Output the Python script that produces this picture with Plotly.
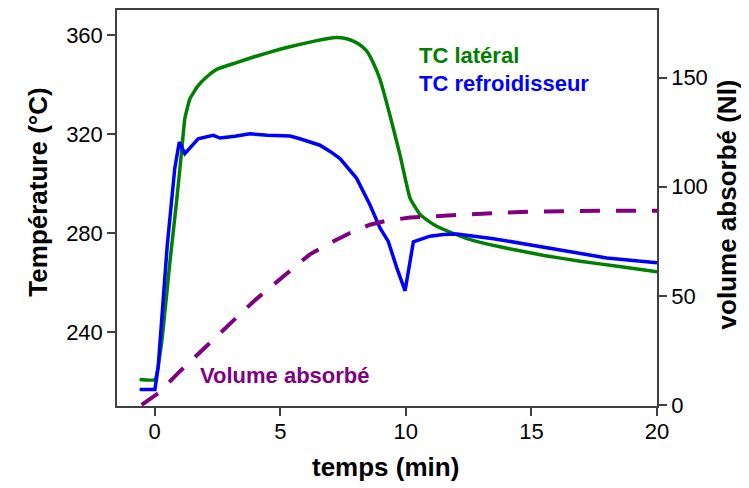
import plotly.graph_objects as go

# --- data ---
t_lat = [-0.6, 0.01, 0.27, 0.61, 0.87, 1.07, 1.2, 1.4, 1.73, 2.1, 2.47, 3.26, 4.0, 4.99, 5.78,
         6.5, 7.11, 7.6, 7.91, 8.2, 8.44, 8.7, 8.97, 9.37, 9.77, 10.17, 10.57, 10.96, 11.23,
         11.63, 12.43, 13.3, 14.28, 15.5, 16.94, 18.5, 20.0]
T_lat = [220.8, 220.8, 235.3, 268.6, 292.7, 312.8, 326.3, 334.3, 339.7, 343.5, 346.3, 349.0,
         351.5, 354.4, 356.4, 358.0, 359.1, 358.8, 357.7, 356.0, 353.7, 349.0, 342.3, 327.6,
         311.6, 294.1, 287.5, 284.5, 282.8, 281.0, 277.8, 275.5, 273.4, 271.0, 268.7, 266.5,
         264.4]

t_ref = [-0.6, 0.01, 0.14, 0.37, 0.5, 0.8, 0.98, 1.2, 1.5, 1.73, 2.33, 2.6, 3.2, 3.79, 4.5,
         5.39, 5.78, 6.58, 7.0, 7.38, 8.04, 8.57, 8.97, 9.3, 9.64, 9.97, 10.3, 10.6, 10.96,
         11.5, 12.03, 13.49, 15.6, 18.0, 20.0]
T_ref = [216.8, 216.8, 225.9, 256.7, 275.0, 306.2, 316.9, 312.2, 315.5, 318.2, 319.6, 318.5,
         319.2, 320.2, 319.6, 319.3, 318.2, 315.6, 313.0, 310.2, 302.2, 291.5, 282.1, 276.7,
         266.0, 256.7, 276.5, 277.5, 278.8, 279.5, 279.7, 277.8, 274.1, 270.0, 268.0]

t_vol = [-0.52, 0.14, 0.94, 1.67, 2.47, 3.2, 3.99, 4.72, 5.52, 6.18, 6.98, 7.78, 8.57, 9.24,
         10.17, 11.0, 12.03, 13.49, 15.08, 16.5, 18.0, 20.0]
V_abs = [0.0, 5.3, 14.7, 22.7, 31.8, 39.7, 48.0, 55.0, 62.9, 69.0, 74.2, 78.8, 82.6, 84.4,
         85.9, 86.5, 87.1, 87.9, 88.6, 88.9, 89.0, 89.0]

x_ticks = [0, 5, 10, 15, 20]
y_ticks = [240, 280, 320, 360]
y2_ticks = [0, 50, 100, 150]

GREEN = "#008000"
BLUE = "#0000FF"
PURPLE = "#800080"
AX = "#404040"
FONT = "Liberation Sans, Arial, sans-serif"

fig = go.Figure()
fig.add_trace(go.Scatter(x=t_lat, y=T_lat, mode="lines",
                         line=dict(color=GREEN, width=3.5, shape="spline", smoothing=0.4),
                         name="TC latéral", showlegend=False))
fig.add_trace(go.Scatter(x=t_ref, y=T_ref, mode="lines", line=dict(color=BLUE, width=3.5),
                         name="TC refroidisseur", showlegend=False))
fig.add_trace(go.Scatter(x=t_vol, y=V_abs, mode="lines", yaxis="y2",
                         line=dict(color=PURPLE, width=4, dash="20px,16px"),
                         name="Volume absorbé", showlegend=False))

axis_common = dict(showline=True, linecolor=AX, linewidth=1.5, ticks="outside", ticklen=8,
                   tickwidth=1.5, tickcolor=AX, showgrid=False, zeroline=False,
                   tickfont=dict(family=FONT, size=22, color="#000"))

# page body has an 8px margin, so the figure is offset by 8px in the window
fig.update_layout(
    width=741, height=480,
    margin=dict(l=109, r=92, t=0, b=82),
    paper_bgcolor="white", plot_bgcolor="white",
    xaxis=dict(range=[-1.5, 20.0], tickvals=x_ticks, mirror=True, ticklabelstandoff=-3,
               **axis_common),
    yaxis=dict(range=[210.1, 370.3], tickvals=y_ticks, **axis_common),
    yaxis2=dict(range=[-0.5, 181], tickvals=y2_ticks, overlaying="y", side="right",
                **axis_common),
    annotations=[
        dict(text="<b>TC latéral</b>", x=0.5556, y=0.885, xref="paper", yref="paper",
             xanchor="left", yanchor="middle", showarrow=False,
             font=dict(family=FONT, size=22, color=GREEN)),
        dict(text="<b>TC refroidisseur</b>", x=0.5556, y=0.8145, xref="paper", yref="paper",
             xanchor="left", yanchor="middle", showarrow=False,
             font=dict(family=FONT, size=22, color=BLUE)),
        dict(text="<b>Volume absorbé</b>", x=0.15, y=0.0777, xref="paper", yref="paper",
             xanchor="left", yanchor="middle", showarrow=False,
             font=dict(family=FONT, size=22, color=PURPLE)),
        dict(text="<b>Température (°C)</b>", x=-0.148, y=0.539, xref="paper", yref="paper",
             xanchor="center", yanchor="middle", showarrow=False, textangle=-90,
             font=dict(family=FONT, size=26, color="#000")),
        dict(text="<b>volume absorbé (Nl)</b>", x=1.1296, y=0.509, xref="paper", yref="paper",
             xanchor="center", yanchor="middle", showarrow=False, textangle=-90,
             font=dict(family=FONT, size=26, color="#000")),
        dict(text="<b>temps (min)</b>", x=0.498, y=-0.153, xref="paper", yref="paper",
             xanchor="center", yanchor="middle", showarrow=False,
             font=dict(family=FONT, size=26, color="#000")),
    ],
)

fig.write_html("out.html")
